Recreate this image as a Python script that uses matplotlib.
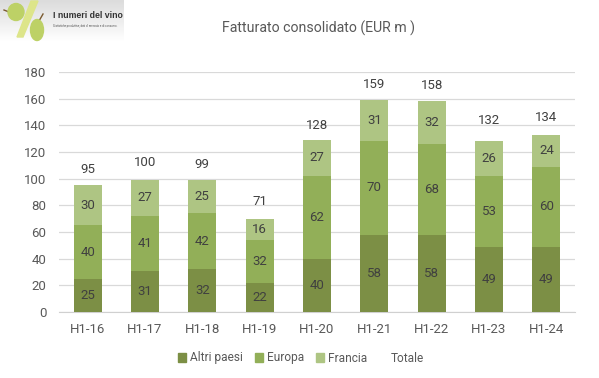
import numpy as np
import matplotlib
matplotlib.use("Agg")
import matplotlib.pyplot as plt
from matplotlib.patches import Ellipse, Polygon, Patch
from matplotlib.lines import Line2D

categories = ["H1-16", "H1-17", "H1-18", "H1-19", "H1-20", "H1-21", "H1-22", "H1-23", "H1-24"]
altri = [25, 31, 32, 22, 40, 58, 58, 49, 49]
europa = [40, 41, 42, 32, 62, 70, 68, 53, 60]
francia = [30, 27, 25, 16, 27, 31, 32, 26, 24]
totale = [95, 100, 99, 71, 128, 159, 158, 132, 134]

C_A, C_E, C_F = "#7C8F45", "#92AF58", "#AEC583"
GREY = "#595959"
W, H = 599, 378
plt.rcParams["font.family"] = ["Roboto", "DejaVu Sans"]

fig = plt.figure(figsize=(W / 100, H / 100), dpi=100, facecolor="white")
ax = fig.add_axes([59 / W, 1 - 312 / H, (575 - 59) / W, 240 / H])
x = np.arange(len(categories))
bw = 0.49
bottom = np.zeros(len(x))
for vals, col in ((altri, C_A), (europa, C_E), (francia, C_F)):
    bars = ax.bar(x, vals, bw, bottom=bottom, color=col, zorder=3)
    ax.bar_label(bars, labels=[str(v) for v in vals], label_type="center",
                 fontsize=9.5, color="#404040", zorder=4)
    bottom += np.array(vals)

ax.plot(x, totale, color="none", zorder=2)
for xi, t in zip(x, totale):
    ax.annotate(str(t), (xi, t), xytext=(0, 11.5), textcoords="offset points",
                ha="center", va="center", fontsize=9.5, color="#404040")

ax.set_xlim(-0.5, len(x) - 0.5)
ax.set_ylim(0, 180)
ax.set_yticks(range(0, 181, 20))
ax.set_xticks(x, categories)
ax.tick_params(length=0, labelsize=9.5, labelcolor=GREY)
ax.tick_params(axis="x", pad=8)
ax.tick_params(axis="y", pad=9)
ax.grid(axis="y", color="#D9D9D9", lw=0.9, zorder=0)
ax.set_axisbelow(True)
for s in ("top", "right", "left"):
    ax.spines[s].set_visible(False)
ax.spines["bottom"].set_color("#D0D0D0")

fig.text(318 / W, 1 - 28 / H, "Fatturato consolidato (EUR m )", ha="center", va="center",
         fontsize=10.2, color=GREY)

handles = [Patch(color=C_A), Patch(color=C_E), Patch(color=C_F), Line2D([], [], color="none")]
fig.legend(handles, ["Altri paesi", "Europa", "Francia", "Totale"], ncol=4,
           loc="center", bbox_to_anchor=(301 / W, 1 - 358 / H), frameon=False,
           fontsize=8.6, labelcolor=GREY, handlelength=0.7, handleheight=0.7,
           handletextpad=0.3, columnspacing=1.0)

# Logo
logo = fig.add_axes([0, 1 - 42 / H, 124 / W, 42 / H])
logo.set_xlim(0, 124)
logo.set_ylim(42, 0)
logo.axis("off")
grad = np.linspace(0.86, 1.0, 64)[:, None]
logo.imshow(grad, cmap="gray", vmin=0, vmax=1, extent=(0, 124, 42, 0), aspect="auto", zorder=0)
logo.add_patch(Polygon([(17, 37), (31, 1), (38, 1), (23, 37)], color="#DDE58A", zorder=1))
logo.add_patch(Ellipse((16, 12), 16, 17, color="#BDD166", zorder=2))
logo.add_patch(Ellipse((37, 30), 13, 21, color="#BDD166", zorder=2))
logo.plot([4, 9], [10, 12], color="#7A5A30", lw=1, zorder=1)
logo.plot([43, 39], [14, 21], color="#7A5A30", lw=1, zorder=1)
logo.text(53, 15, "I numeri del vino", fontsize=6.3, fontweight="bold", color="#333333",
          va="center", ha="left", family=["Liberation Sans Narrow", "Liberation Sans"])
logo.text(53, 26, "Statistiche produttive, dati di mercato e di consumo.", fontsize=1.95,
          color="#555555", va="center", ha="left")

fig.savefig("out.png", dpi=100)
